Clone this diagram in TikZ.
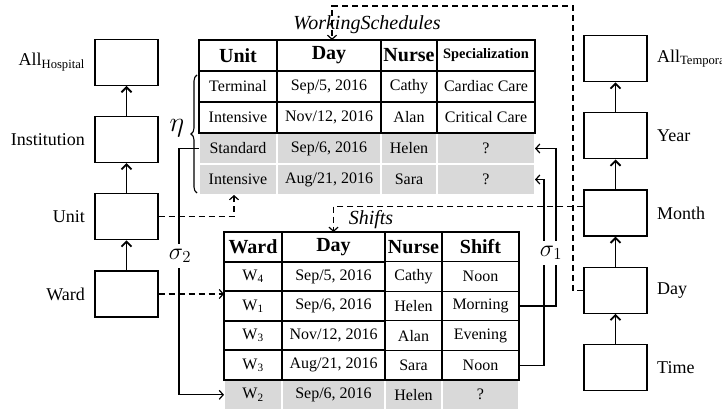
\documentclass[tikz,border=0pt]{standalone}
\usepackage{fix-cm}
\usepackage{fontspec}
\setmainfont{Liberation Serif}
\usetikzlibrary{positioning,calc,backgrounds,decorations.pathreplacing,arrows.meta}
\definecolor{cellgray}{HTML}{D9D9D9}
\tikzset{
  lvl/.style={draw, line width=1.2pt, minimum width=63pt, minimum height=46pt},
  lbl/.style={font=\fontsize{18}{20}\selectfont},
  hier/.style={-{Straight Barb[length=5pt,width=10pt]}, line width=1.8pt},
  dashline/.style={-{Straight Barb[length=4pt,width=9pt]}, line width=1.2pt, dash pattern=on 6pt off 4pt},
  link/.style={-{Straight Barb[length=4pt,width=9pt]}, line width=1.2pt},
  cell/.style={draw, line width=1.1pt, outer sep=0pt, inner sep=0pt, font=\fontsize{16}{18}\selectfont},
  keycell/.style={cell, line width=2pt},
  gcell/.style={cell, draw=white, line width=2pt, fill=cellgray},
  hd/.style={font=\fontsize{20}{22}\selectfont\bfseries},
  tname/.style={font=\fontsize{20}{22}\selectfont\itshape},
  sym/.style={font=\fontsize{24}{26}\selectfont, fill=white, inner xsep=1pt, inner ysep=5pt},
  wsrow/.style={minimum height=31pt},
  shrow/.style={minimum height=29.6pt},
  wsA/.style={wsrow, minimum width=78pt},
  wsB/.style={wsrow, minimum width=104pt},
  wsC/.style={wsrow, minimum width=56pt},
  wsD/.style={wsrow, minimum width=98pt},
  shA/.style={shrow, minimum width=58pt},
  shB/.style={shrow, minimum width=103pt},
  shC/.style={shrow, minimum width=57pt},
  shD/.style={shrow, minimum width=77pt}
}

\begin{document}
\begin{tikzpicture}[x=1pt,y=-1pt]
\useasboundingbox (0,0) rectangle (722,411);

% location hierarchy
\node[lvl] (ward) at (126.5,294) {};
\node[lvl, above=30pt of ward] (unit) {};
\node[lvl, above=30pt of unit] (inst) {};
\node[lvl, above=30pt of inst] (hosp) {};
\node[lbl, left=6pt of ward] (wardlbl) {Ward};
\node[lbl, left=6pt of unit] (unitlbl) {Unit};
\node[lbl, left=6pt of inst] (instlbl) {Institution};
\node[lbl, left=6pt of hosp] (hosplbl) {All\textsubscript{Hospital}};

% temporal hierarchy
\node[lvl] (time) at (615.5,367.5) {};
\node[lvl, above=30pt of time] (day) {};
\node[lvl, above=30pt of day] (month) {};
\node[lvl, above=30pt of month] (year) {};
\node[lvl, above=30pt of year] (alltemp) {};
\node[lbl, right=6pt of time] (timelbl) {Time};
\node[lbl, right=6pt of day] (daylbl) {Day};
\node[lbl, right=6pt of month] (monthlbl) {Month};
\node[lbl, right=6pt of year] (yearlbl) {Year};
\node[lbl, right=6pt of alltemp] (alltemplbl) {All\textsubscript{Temporal}};

\draw[hier] (ward) -- (unit);
\draw[hier] (unit) -- (inst);
\draw[hier] (inst) -- (hosp);
\draw[hier] (time) -- (day);
\draw[hier] (day) -- (month);
\draw[hier] (month) -- (year);
\draw[hier] (year) -- (alltemp);

% WorkingSchedules
\node[tname] (wsname) at (367,25) {WorkingSchedules};
\node[keycell, wsA, hd, anchor=north west] (ws11) at (199,40) {Unit};
\node[keycell, wsB, hd, right=0pt of ws11] (ws12) {Day};
\node[cell, wsC, hd, right=0pt of ws12] (ws13) {Nurse};
\node[cell, wsD, font=\fontsize{14.4}{16}\selectfont\bfseries, right=0pt of ws13] (ws14) {Specialization};
\node[keycell, wsA, below=0pt of ws11] (ws21) {Terminal};
\node[keycell, wsB, right=0pt of ws21] (ws22) {Sep/5, 2016};
\node[cell, wsC, right=0pt of ws22] (ws23) {Cathy};
\node[cell, wsD, right=0pt of ws23] (ws24) {Cardiac Care};
\node[keycell, wsA, below=0pt of ws21] (ws31) {Intensive};
\node[keycell, wsB, right=0pt of ws31] (ws32) {Nov/12, 2016};
\node[cell, wsC, right=0pt of ws32] (ws33) {Alan};
\node[cell, wsD, right=0pt of ws33] (ws34) {Critical Care};
\begin{scope}[on background layer]
\node[gcell, wsA, below=0pt of ws31] (ws41) {Standard};
\node[gcell, wsB, right=0pt of ws41] (ws42) {Sep/6, 2016};
\node[gcell, wsC, right=0pt of ws42] (ws43) {Helen};
\node[gcell, wsD, right=0pt of ws43] (ws44) {?};
\node[gcell, wsA, below=0pt of ws41] (ws51) {Intensive};
\node[gcell, wsB, right=0pt of ws51] (ws52) {Aug/21, 2016};
\node[gcell, wsC, right=0pt of ws52] (ws53) {Sara};
\node[gcell, wsD, right=0pt of ws53] (ws54) {?};
\end{scope}

% Shifts
\node[tname] (shname) at (371,220) {Shifts};
\node[keycell, shA, hd, anchor=north west] (sh11) at (224,232) {Ward};
\node[keycell, shB, hd, right=0pt of sh11] (sh12) {Day};
\node[cell, shC, hd, right=0pt of sh12] (sh13) {Nurse};
\node[cell, shD, hd, right=0pt of sh13] (sh14) {Shift};
\node[keycell, shA, below=0pt of sh11] (sh21) {W\textsubscript{4}};
\node[keycell, shB, right=0pt of sh21] (sh22) {Sep/5, 2016};
\node[cell, shC, right=0pt of sh22] (sh23) {Cathy};
\node[cell, shD, right=0pt of sh23] (sh24) {Noon};
\node[keycell, shA, below=0pt of sh21] (sh31) {W\textsubscript{1}};
\node[keycell, shB, right=0pt of sh31] (sh32) {Sep/6, 2016};
\node[cell, shC, right=0pt of sh32] (sh33) {Helen};
\node[cell, shD, right=0pt of sh33] (sh34) {Morning};
\node[keycell, shA, below=0pt of sh31] (sh41) {W\textsubscript{3}};
\node[keycell, shB, right=0pt of sh41] (sh42) {Nov/12, 2016};
\node[cell, shC, right=0pt of sh42] (sh43) {Alan};
\node[cell, shD, right=0pt of sh43] (sh44) {Evening};
\node[keycell, shA, below=0pt of sh41] (sh51) {W\textsubscript{3}};
\node[keycell, shB, right=0pt of sh51] (sh52) {Aug/21, 2016};
\node[cell, shC, right=0pt of sh52] (sh53) {Sara};
\node[cell, shD, right=0pt of sh53] (sh54) {Noon};
\begin{scope}[on background layer]
\node[gcell, shA, below=0pt of sh51] (sh61) {W\textsubscript{2}};
\node[gcell, shB, right=0pt of sh61] (sh62) {Sep/6, 2016};
\node[gcell, shC, right=0pt of sh62] (sh63) {Helen};
\node[gcell, shD, right=0pt of sh63] (sh64) {?};
\end{scope}

% mappings
\coordinate (daybend) at (573,6);
\draw[dashline] (unit.east) -| ([xshift=-4pt]ws51.south);
\draw[dashline] (ward.east) -- (ward.east -| sh11.west);
\draw[dashline] ([yshift=6.5pt]month.west) -| (sh12.north);
\draw[dashline] (day.west) -| (daybend) -| ([xshift=3pt]ws12.north);
\draw[link] (sh34.east) -- ++(37,0) |- (ws44.east);
\draw[link] (sh54.east) -- ++(25,0) |- (ws54.east);
\draw[link] (ws41.west) -- ++(-20,0) |- (sh61.west);
\node[sym] (sig1) at (551,253) {$\sigma_1$};
\node[sym] (sig2) at (180,256) {$\sigma_2$};

\draw[line width=1.1pt, decorate, decoration={brace, amplitude=6pt}]
  ([xshift=-2pt,yshift=2pt]ws51.south west) -- ([xshift=-2pt,yshift=-4pt]ws21.north west);
\node[font=\fontsize{28}{30}\selectfont] (eta) at (177,128) {$\eta$};
\end{tikzpicture}
\end{document}
